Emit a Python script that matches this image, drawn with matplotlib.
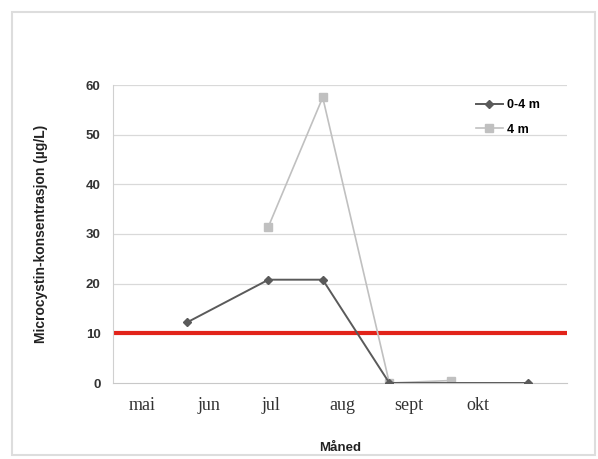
import matplotlib.pyplot as plt
from matplotlib.patches import Rectangle

# sampling days counted from 1 May
days_0_4m = [30, 63, 85, 112, 168]
conc_0_4m = [12.2, 20.8, 20.8, 0.0, 0.0]

days_4m = [63, 85, 112, 137]
conc_4m = [31.5, 57.5, 0.0, 0.5]

limit_value = 10

month_labels = ["mai", "jun", "jul", "aug", "sept", "okt"]
month_pos = [12, 39, 64, 93, 120, 148]

y_ticks = [0, 10, 20, 30, 40, 50, 60]

fig = plt.figure(figsize=(5.98, 4.59), dpi=100)
fig.patch.set_facecolor("white")

# outer chart frame
fig.patches.append(Rectangle((12 / 598, 4 / 459), 583 / 598, 443 / 459,
                             transform=fig.transFigure, fill=False,
                             edgecolor="#dddddd", linewidth=1.5))

ax = fig.add_axes([113 / 598, 76 / 459, 454 / 598, 298 / 459])

for y in y_ticks[1:]:
    ax.axhline(y, color="#d9d9d9", linewidth=0.9, zorder=0)

ax.axhline(limit_value, color="#e2231a", linewidth=3, zorder=1)

ax.plot(days_4m, conc_4m, color="#c0c0c0", linewidth=1.2, marker="s",
        markersize=6, label="4 m", zorder=2)
ax.plot(days_0_4m, conc_0_4m, color="#5a5a5a", linewidth=1.4, marker="D",
        markersize=4.5, label="0-4 m", zorder=3)

ax.set_xlim(0, 184)
ax.set_ylim(0, 60)
ax.set_yticks(y_ticks)
ax.set_yticklabels([str(v) for v in y_ticks], fontsize=9.5, fontweight="bold",
                   color="#333333", family="Liberation Sans")
ax.set_xticks(month_pos)
ax.set_xticklabels(month_labels, fontsize=13, family="Liberation Serif",
                   color="#333333")
ax.tick_params(axis="x", length=0, pad=10)
ax.tick_params(axis="y", length=0, pad=9)

for side in ["top", "right"]:
    ax.spines[side].set_visible(False)
ax.spines["left"].set_color("#d0d0d0")
ax.spines["bottom"].set_color("#c8c8c8")

ax.set_ylabel("Microcystin-konsentrasjon (µg/L)", fontsize=10,
              fontweight="bold", family="Liberation Sans", labelpad=27,
              color="#222222")
ax.set_xlabel("Måned", fontsize=9.5, fontweight="bold",
              family="Liberation Sans", labelpad=20, color="#222222")

handles, labels = ax.get_legend_handles_labels()
ax.legend(handles[::-1], labels[::-1], loc="upper right",
          bbox_to_anchor=(0.965, 0.99), frameon=False,
          handlelength=2.2, handletextpad=0.3, labelspacing=1.0,
          prop={"family": "Liberation Sans", "weight": "bold", "size": 9})

fig.savefig("out.png", dpi=100)
